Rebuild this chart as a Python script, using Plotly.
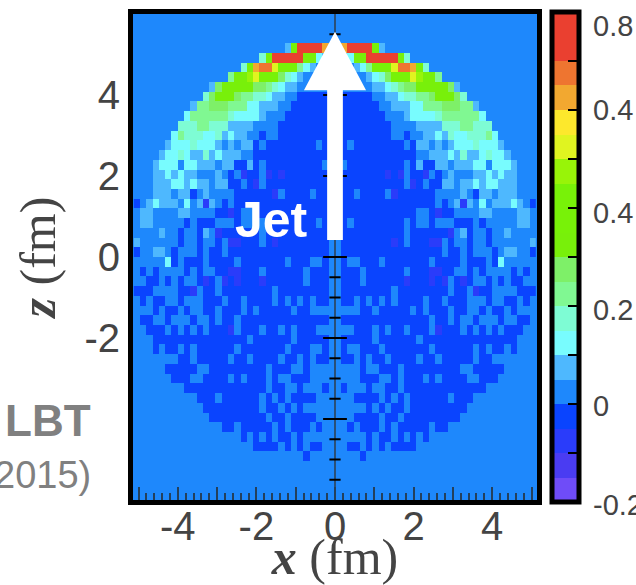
import plotly.graph_objects as go

# Colour bands of the colour bar, bottom to top (20 bands, -0.2 .. 0.8)
band_colors = ["#6f4cf8", "#4a3cf2", "#2a3cfa", "#0a44fe", "#1e88fc", "#4eb8fe", "#78fcfe", "#7efcd4",
               "#80f892", "#7ef068", "#78f00a", "#78f208", "#78f208", "#98f408", "#e0f420", "#fde82c",
               "#f2a830", "#ee7530", "#ea4030", "#ea4030"]
band_keys = "0123456789abcdefghij"
z_min, z_max = -0.2, 0.8
band_width = 0.05

# Left half of each row, top (z=+6) to bottom (z=-6); one character = colour band of a cell.
# The reference map is an exact left/right mirror image.
left_rows = [
    "44444444 44444444 44444444 44444444",
    "44444444 44444444 44444444 44444444",
    "44444444 44444444 44444444 44444444",
    "44444444 44444444 44444444 5ajjjjgj",
    "44444444 44444444 44447ajj jjjaa655",
    "44444444 44444444 47aghheb bb865444",
    "44444444 44444448 aadebbb9 76544444",
    "44444444 444459aa aaa99876 55444444",
    "44444444 44479aaa 98877655 44333333",
    "44444444 45889998 88665554 43333333",
    "44444444 68888887 66665444 33333333",
    "44444447 77887775 55544443 33333333",
    "44444468 77766756 55443443 33333333",
    "44444566 67666545 45534333 33333433",
    "44445667 65575655 54433333 33333333",
    "44456664 66555455 33534333 33333343",
    "44455656 55444543 42334232 33333333",
    "44455566 56554553 34324333 33333333",
    "44455545 53454444 33333324 33334333",
    "34565554 64525434 33333333 33333333",
    "45544445 54444332 34433333 33333333",
    "45544444 34333444 34434333 33333433",
    "44445443 44354233 33334333 33333333",
    "54444443 44344342 23334323 33333334",
    "34455434 44343343 33333333 33333334",
    "44444634 33343333 43333333 43334434",
    "43434444 34344332 23334333 33343334",
    "44334343 44323423 23332333 33343334",
    "33344443 32433433 33333343 33333334",
    "43433443 44433343 34333343 43434334",
    "44434334 34433433 34343333 34334444",
    "43344344 43443433 43333333 33333334",
    "44333434 34343332 43334334 34333444",
    "44433333 33333333 33433333 34333334",
    "44434334 34333333 43333333 43334434",
    "44444443 34333334 33433334 33434334",
    "44444333 33443333 33333433 34434444",
    "44444433 34433334 34333434 43334444",
    "44444444 33333333 33333433 44344434",
    "44444444 44333433 33334343 43333444",
    "44444444 44433333 33334334 34344444",
    "44444444 44443333 33333433 43333444",
    "44444444 44444433 43333343 43334344",
    "44444444 44444444 43434343 34344444",
    "44444444 44444444 44433334 34343344",
    "44444444 44444444 44444444 44434444",
    "44444444 44444444 44444444 44444444",
    "44444444 44444444 44444444 44444444",
    "44444444 44444444 44444444 44444444",
    "44444444 44444444 44444444 44444444",
]

x_major = [-5, -4, -3, -2, -1, 0, 1, 2, 3, 4, 5]
x_labels = ["", "-4", "", "-2", "", "0", "", "2", "", "4", ""]
z_labels_vals = [4, 2, 0, -2]
z_labels = ["4", "2", "0", "-2"]
z_major_marks = [4, 2, 0, -2, -4]
z_minor_marks = [5.5, 5, 4.5, 3.5, 3, 2.5, 1.5, 1, 0.5, -0.5, -1, -1.5, -2.5, -3, -3.5, -4.5, -5, -5.5]
cb_ticks = [-0.1, 0.0, 0.1, 0.2, 0.3, 0.4, 0.5, 0.6, 0.7]
cb_labels = [("0.8", 26), ("0.4", 110), ("0.4", 213), ("0.2", 310), ("0", 406), ("-0.2", 505)]

W, H = 636, 585
L, R, T, B = 133, 537, 14, 500
INK = "#444444"
SANS = "Liberation Sans"
SERIF = "Liberation Serif"

def px_x(p):
    return (p - L) / (R - L)

def px_y(p):
    return (B - p) / (B - T)

rows = []
for r in left_rows:
    half = r.replace(" ", "")
    full = half + half[::-1]
    rows.append([z_min + band_width * (band_keys.index(c) + 0.5) for c in full])
rows = rows[::-1]

n = len(band_colors)
colorscale = []
for i, c in enumerate(band_colors):
    colorscale.append([i / n, c])
    colorscale.append([(i + 1) / n, c])

fig = go.Figure()
fig.add_trace(go.Heatmap(
    z=rows, x0=-5.04, dx=0.16, y0=-5.88, dy=0.24,
    zmin=z_min, zmax=z_max, colorscale=colorscale, hoverinfo="skip", zsmooth=False,
    colorbar=dict(
        x=px_x(552.5), xanchor="left", xpad=0, y=px_y(12), yanchor="top", ypad=0,
        lenmode="pixels", len=490, thicknessmode="pixels", thickness=27,
        outlinewidth=5, outlinecolor="black", borderwidth=0,
        tickmode="array", tickvals=cb_ticks, ticktext=[""] * len(cb_ticks),
        ticks="inside", ticklen=13, tickwidth=2, tickcolor="black",
    ),
))
# Vertical z scale drawn through x = 0
fig.add_trace(go.Scatter(x=[0, 0], y=[-6, 6], mode="lines", line=dict(color="#2a5078", width=2),
                         hoverinfo="skip", showlegend=False))
fig.add_trace(go.Scatter(x=[0] * len(z_minor_marks), y=z_minor_marks, mode="markers",
                         marker=dict(symbol="line-ew", size=8, line=dict(color="black", width=2)),
                         hoverinfo="skip", showlegend=False))
fig.add_trace(go.Scatter(x=[0] * len(z_major_marks), y=z_major_marks, mode="markers",
                         marker=dict(symbol="line-ew", size=17, line=dict(color="black", width=2)),
                         hoverinfo="skip", showlegend=False))

font_tick = dict(family=SANS, size=40, color=INK)
font_title = dict(family=SERIF, size=50, color=INK)

fig.update_layout(
    width=W, height=H, margin=dict(l=L, r=W - R, t=T, b=H - B, pad=0, autoexpand=False),
    paper_bgcolor="white", plot_bgcolor=band_colors[4], showlegend=False,
    xaxis=dict(range=[-5.14, 5.14], tickmode="array", tickvals=x_major, ticktext=x_labels,
               ticks="inside", ticklen=13, tickwidth=1.5, tickcolor="#24405c",
               minor=dict(dtick=0.2, tick0=0, ticks="inside", ticklen=7, tickwidth=1.5, tickcolor="#24405c"),
               showgrid=False, zeroline=False, showline=True, linewidth=5, linecolor="black", mirror=True,
               tickfont=font_tick, tickangle=0, automargin=False, ticklabelstandoff=-13,
               title=dict(text="<b><i>x</i></b> (fm)", font=font_title, standoff=0)),
    yaxis=dict(range=[-6, 6], tickmode="array", tickvals=z_labels_vals, ticktext=z_labels,
               ticks="", showgrid=False, zeroline=False, showline=True, linewidth=5, linecolor="black",
               mirror=True, tickfont=font_tick, automargin=False,
               title=dict(text="<b><i>z</i></b> (fm)", font=font_title, standoff=14)),
    shapes=[dict(type="path", xref="x", yref="y", layer="above", line=dict(width=0), fillcolor="white",
                 path="M -0.2 0.42 L -0.2 4.12 L -0.79 4.12 L 0 5.56 L 0.79 4.12 L 0.2 4.12 L 0.2 0.42 Z")],
)

anns = [
    dict(text="<b>Jet</b>", x=px_x(271), y=px_y(220), font=dict(family=SANS, size=50, color="white")),
    dict(text="<b>LBT</b>", x=px_x(48), y=px_y(420), font=dict(family=SANS, size=44, color="#808080")),
    dict(text="2015)", x=px_x(93), y=px_y(475), xanchor="right", font=dict(family=SANS, size=38, color="#808080")),
]
for text, p in cb_labels:
    anns.append(dict(text=text, x=px_x(591), y=px_y(p), xanchor="left", font=dict(family=SANS, size=29, color=INK)))
for a in anns:
    a.update(xref="paper", yref="paper", showarrow=False)
    a.setdefault("xanchor", "center")
    a["yanchor"] = "middle"
fig.update_layout(annotations=anns)

fig.write_html("out.html", config=dict(displayModeBar=False),
               post_script="document.body.style.margin='0';document.body.style.overflow='hidden';")
